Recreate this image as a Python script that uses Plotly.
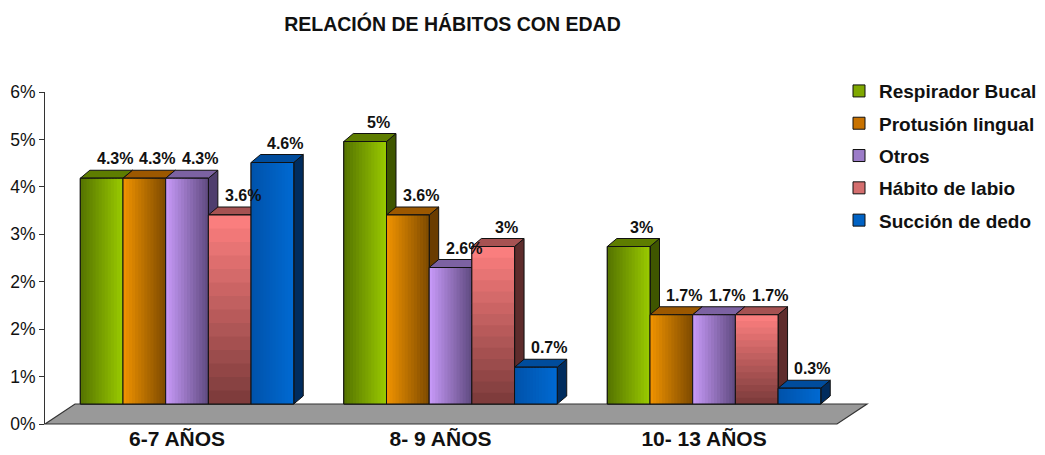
import plotly.graph_objects as go

# ---------------- data ----------------
categories = ["6-7 AÑOS", "8- 9 AÑOS", "10- 13 AÑOS"]
series_names = ["Respirador Bucal", "Protusión lingual", "Otros",
                "Hábito de labio", "Succión de dedo"]
respirador_bucal = [0.043, 0.050, 0.030]
protusion_lingual = [0.043, 0.036, 0.017]
otros = [0.043, 0.026, 0.017]
habito_labio = [0.036, 0.030, 0.017]
succion_dedo = [0.046, 0.007, 0.003]
series_values = [respirador_bucal, protusion_lingual, otros, habito_labio, succion_dedo]

axis_max = 0.056
axis_step = 0.008

# ---------------- style ----------------
# gradient (start, end, direction) for the front faces
grad = [("#557300", "#9ACB00", "h"),
        ("#F29400", "#7D4A00", "h"),
        ("#C99BFA", "#5F4A80", "h"),
        ("#FF8080", "#7A3A3A", "v"),
        ("#0052AA", "#006AD2", "h")]
legend_cols = ["#7FA800", "#C87200", "#9C7CC8", "#D46E6E", "#0062C4"]
top_cols = ["#5E7D00", "#9C5800", "#7C62A2", "#A65252", "#004C9C"]
side_cols = ["#3F5600", "#6A3C00", "#4F3E6E", "#5E2C2C", "#002C5E"]


def mix(c1, c2, t):
    a = [int(c1[i:i + 2], 16) for i in (1, 3, 5)]
    b = [int(c2[i:i + 2], 16) for i in (1, 3, 5)]
    return "#" + "".join(f"{round(a[j] + (b[j] - a[j]) * t):02x}" for j in range(3))


FONT = "Liberation Sans, Arial, sans-serif"
OFF = 8  # page body margin
W, H = 1045 - OFF, 455 - OFF
ml, mr, mt, mb = 45 - OFF, 208, 92 - OFF, 31
plot_w = W - ml - mr
plot_h = H - mt - mb

# bar plane: baseline 20 px above the front floor edge, 52.5 px per 1 %
base_px = 20
px_per_unit_y = 5250.0
y_lo = -base_px / px_per_unit_y
y_hi = y_lo + plot_h / px_per_unit_y

# visible value axis (front edge): 0 .. axis_max over full plot height
tick_vals_axis = [axis_step * j for j in range(int(round(axis_max / axis_step)) + 1)]
tick_vals = [y_lo + t / axis_max * (y_hi - y_lo) for t in tick_vals_axis]
tick_text = [f"{round(t * 100)}%" for t in tick_vals_axis]

x_px_per_cat = 263.5
x_r0 = -0.539
x_r1 = x_r0 + plot_w / x_px_per_cat
label_shift = 10 / x_px_per_cat

bargap = 0.19
n = len(series_names)
bw = (1 - bargap) / n
ddx = 9.5 / x_px_per_cat
ddy = 8 / px_per_unit_y
NSTRIP = 14
ovx = 1.2 / x_px_per_cat      # strip overlap (x) to hide seams
ovy = 1.2 / px_per_unit_y     # strip overlap (y)

fig = go.Figure()

for k, (name, vals) in enumerate(zip(series_names, series_values)):
    fig.add_trace(go.Bar(
        x=list(range(len(categories))), y=vals, name=name,
        marker=dict(color=legend_cols[k], line=dict(color="#111111", width=1)),
        legendgroup=name, hoverinfo="skip",
    ))

# floor (decoration, paper coords)
fdx = 30 / plot_w
fdy = base_px / plot_h
fig.add_shape(type="path",
              path=f"M 0 0 L {fdx} {fdy} L {1+fdx} {fdy} L 1 0 Z",
              xref="paper", yref="paper", fillcolor="#999999",
              line=dict(color="#333333", width=1.2), layer="below")

# 3D faces + gradient fronts derived from the data values
for i in range(len(categories)):
    for k in range(n):
        v = series_values[k][i]
        xc = i + (k - (n - 1) / 2) * bw
        x0, x1 = xc - bw / 2, xc + bw / 2
        fig.add_shape(type="path",
                      path=f"M {x1} 0 L {x1} {v} L {x1+ddx} {v+ddy} L {x1+ddx} {ddy} Z",
                      xref="x", yref="y", fillcolor=side_cols[k],
                      line=dict(color="#111111", width=1), layer="below")
        fig.add_shape(type="path",
                      path=f"M {x0} {v} L {x1} {v} L {x1+ddx} {v+ddy} L {x0+ddx} {v+ddy} Z",
                      xref="x", yref="y", fillcolor=top_cols[k],
                      line=dict(color="#111111", width=1), layer="below")
        c1, c2, d = grad[k]
        for j in range(NSTRIP):
            col = mix(c1, c2, (j + 0.5) / NSTRIP)
            if d == "h":
                sx0 = x0 + bw * j / NSTRIP
                sx1 = min(x1, x0 + bw * (j + 1) / NSTRIP + ovx)
                sy0, sy1 = 0, v
            else:
                sx0, sx1 = x0, x1
                sy1 = v - v * j / NSTRIP
                sy0 = max(0, v - v * (j + 1) / NSTRIP - ovy)
            fig.add_shape(type="rect", x0=sx0, x1=sx1, y0=sy0, y1=sy1,
                          xref="x", yref="y", fillcolor=col,
                          line=dict(width=0), layer="above")
        fig.add_shape(type="rect", x0=x0, x1=x1, y0=0, y1=v, xref="x", yref="y",
                      fillcolor="rgba(0,0,0,0)", line=dict(color="#111111", width=1),
                      layer="above")

# data labels (annotations stay above every shape)
for i in range(len(categories)):
    for k in range(n):
        v = series_values[k][i]
        xc = i + (k - (n - 1) / 2) * bw
        fig.add_annotation(
            x=xc + 13 / x_px_per_cat, y=v + ddy, xref="x", yref="y",
            text=f"<b>{v*100:g}%</b>", showarrow=False,
            xanchor="center", yanchor="bottom", yshift=1,
            font=dict(family=FONT, size=16, color="#111111"),
        )

fig.update_layout(
    width=W, height=H,
    margin=dict(l=ml, r=mr, t=mt, b=mb, autoexpand=False),
    paper_bgcolor="white", plot_bgcolor="white",
    barmode="group", bargap=bargap, bargroupgap=0,
    title=dict(text="<b>RELACIÓN DE HÁBITOS CON EDAD</b>",
               x=(452.5 - OFF) / W, xref="container", xanchor="center",
               y=1 - (24 - OFF) / H, yref="container", yanchor="middle",
               font=dict(family=FONT, size=19.5, color="#111111")),
    xaxis=dict(range=[x_r0, x_r1], tickvals=[i - label_shift for i in range(len(categories))],
               ticktext=categories, showgrid=False, zeroline=False, showline=False,
               ticks="", tickfont=dict(family=FONT, size=21, color="#111111", weight="bold"),
               automargin=False, fixedrange=True),
    yaxis=dict(range=[y_lo, y_hi], tickvals=tick_vals, ticktext=tick_text,
               showline=True, linecolor="#333333", linewidth=1,
               ticks="outside", ticklen=5, tickcolor="#333333",
               showgrid=False, zeroline=False,
               tickfont=dict(family=FONT, size=17.5, color="#111111"),
               automargin=False, fixedrange=True),
    legend=dict(x=1 + 2 / plot_w, xanchor="left", y=1.06, yanchor="top",
                font=dict(family=FONT, size=19, color="#111111", weight="bold"),
                tracegroupgap=4.6, bgcolor="rgba(0,0,0,0)"),
    showlegend=True,
)

fig.write_html("out.html")
